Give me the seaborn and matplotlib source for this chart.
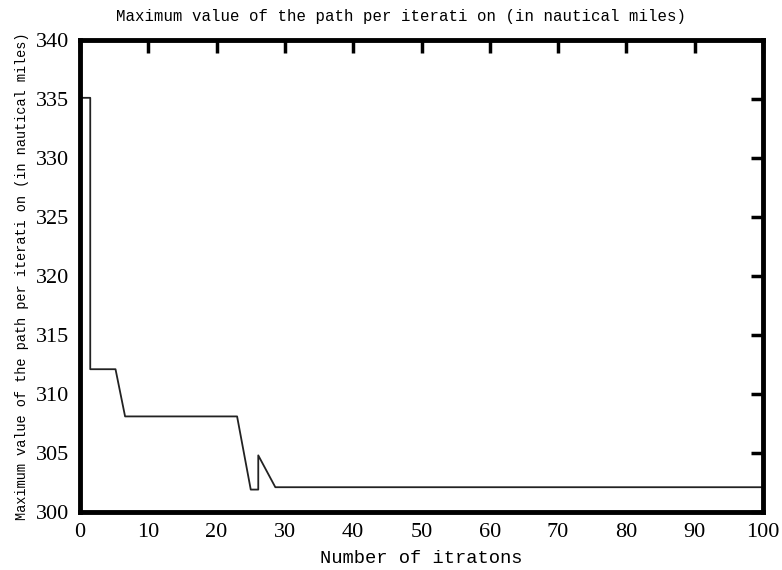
import matplotlib
matplotlib.use("Agg")
import matplotlib.pyplot as plt
import seaborn as sns
import pandas as pd

iterations = [0, 1.5, 1.5, 5.2, 6.6, 23.0, 25.0, 26.1, 26.1, 28.6, 100]
max_values = [335.1, 335.1, 312.1, 312.1, 308.1, 308.1, 301.9, 301.9, 304.8, 302.1, 302.1]
x_ticks = [0, 10, 20, 30, 40, 50, 60, 70, 80, 90, 100]
y_ticks = [300, 305, 310, 315, 320, 325, 330, 335, 340]

title_text = "Maximum value of the path per iterati on (in nautical miles)"
xlabel_text = "Number of itratons"
ylabel_text = "Maximum value of the path per iterati on (in nautical miles)"

sns.set_theme(style="white")
plt.rcParams['font.family'] = ['Liberation Serif', 'DejaVu Serif']
plt.rcParams['text.color'] = 'black'
plt.rcParams['axes.labelcolor'] = 'black'

df = pd.DataFrame({"iter": iterations, "val": max_values})

fig = plt.figure(figsize=(7.82, 5.70), dpi=100)
ax = fig.add_axes([80/782, 58/570, 683/782, 472/570])
sns.lineplot(data=df, x="iter", y="val", ax=ax, color="#222222", linewidth=1.3,
             sort=False, estimator=None)

ax.set_xlim(0, 100)
ax.set_ylim(300, 340)
ax.set_xticks(x_ticks)
ax.set_yticks(y_ticks)
ax.tick_params(axis="both", direction="in", length=9, width=2.5, top=True, right=True,
               labelsize=16, color="black", labelcolor="black")
ax.tick_params(axis="x", pad=8)
ax.tick_params(axis="y", pad=8)
for s in ax.spines.values():
    s.set_visible(True)
    s.set_linewidth(3.5)
    s.set_color("black")

mono = ['Liberation Mono', 'DejaVu Sans Mono']
ax.set_title(title_text, fontsize=11.3, pad=14, family=mono, x=0.47, color="black")
ax.set_xlabel(xlabel_text, fontsize=13.5, labelpad=6, family=mono, color="black")
ax.set_ylabel(ylabel_text, fontsize=9.8, labelpad=5, family=mono, color="black")

fig.savefig("out.png", dpi=100, facecolor="white")
